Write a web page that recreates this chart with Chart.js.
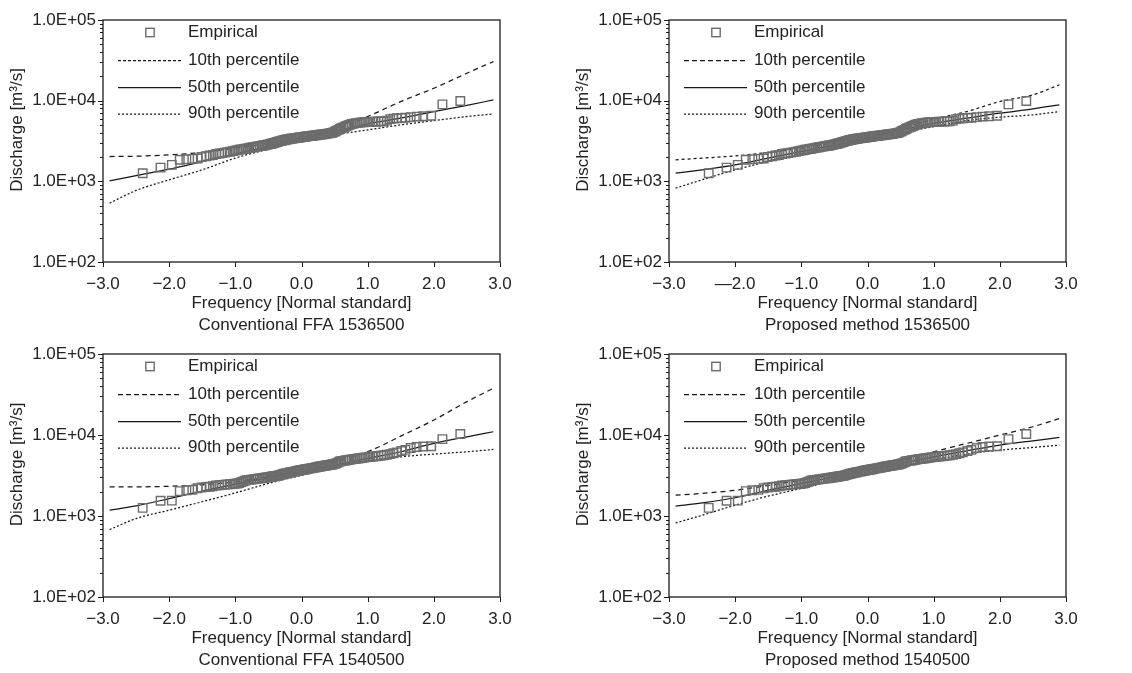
<!DOCTYPE html>
<html>
<head>
<meta charset="utf-8">
<script src="https://cdn.jsdelivr.net/npm/chart.js@4.4.1/dist/chart.umd.min.js"></script>
<style>
  html, body { margin: 0; padding: 0; background: #fff; }
  #wrap { position: relative; width: 1132px; height: 673px; overflow: hidden; }
  .panel { position: absolute; }
</style>
</head>
<body>
<div id="wrap">
  <canvas class="panel" id="p1" width="566" height="336" style="left:0;top:0"></canvas>
  <canvas class="panel" id="p2" width="566" height="336" style="left:566px;top:0"></canvas>
  <canvas class="panel" id="p3" width="566" height="337" style="left:0;top:336px"></canvas>
  <canvas class="panel" id="p4" width="566" height="337" style="left:566px;top:336px"></canvas>
</div>
<script>
// ---- axis ticks and labels ----
const xTickValues = [-3, -2, -1, 0, 1, 2, 3];
const xTickLabels = ['\u22123.0', '\u22122.0', '\u22121.0', '0.0', '1.0', '2.0', '3.0'];
const xTickLabelsAlt = ['\u22123.0', '\u20142.0', '\u22121.0', '0.0', '1.0', '2.0', '3.0'];
const yTickValues = [100, 1000, 10000, 100000];
const yTickLabels = ['1.0E+02', '1.0E+03', '1.0E+04', '1.0E+05'];

const xTitle = 'Frequency [Normal standard]';
const yTitle = 'Discharge [m\u00B3/s]';
const seriesNames = ['Empirical', '10th percentile', '50th percentile', '90th percentile'];

// ---- plotting positions (standard normal variate) of the ranked annual peaks ----
const freqZ = [
  -2.40, -2.13, -1.96, -1.84, -1.74, -1.65, -1.57, -1.51, -1.44, -1.39,
  -1.34, -1.29, -1.24, -1.20, -1.16, -1.12, -1.08, -1.04, -1.01, -0.97,
  -0.94, -0.91, -0.88, -0.85, -0.82, -0.79, -0.76, -0.73, -0.71, -0.68,
  -0.66, -0.63, -0.60, -0.58, -0.56, -0.53, -0.51, -0.48, -0.46, -0.44,
  -0.42, -0.39, -0.37, -0.35, -0.33, -0.30, -0.28, -0.26, -0.24, -0.22,
  -0.20, -0.18, -0.16, -0.14, -0.11, -0.09, -0.07, -0.05, -0.03, -0.01,
   0.01,  0.03,  0.05,  0.07,  0.09,  0.11,  0.14,  0.16,  0.18,  0.20,
   0.22,  0.24,  0.26,  0.28,  0.30,  0.33,  0.35,  0.37,  0.39,  0.42,
   0.44,  0.46,  0.48,  0.51,  0.53,  0.56,  0.58,  0.60,  0.63,  0.66,
   0.68,  0.71,  0.73,  0.76,  0.79,  0.82,  0.85,  0.88,  0.91,  0.94,
   0.97,  1.01,  1.04,  1.08,  1.12,  1.16,  1.20,  1.24,  1.29,  1.34,
   1.39,  1.44,  1.51,  1.57,  1.65,  1.74,  1.84,  1.96,  2.13,  2.40
];

// ---- ranked annual peak discharge, station 1536500 [m3/s] ----
const peaks1536500 = [
  1260, 1480, 1600, 1850, 1880, 1900, 1920, 2000, 2050, 2090,
  2120, 2180, 2210, 2240, 2270, 2300, 2330, 2370, 2400, 2430,
  2460, 2490, 2510, 2530, 2560, 2600, 2630, 2650, 2670, 2690,
  2710, 2730, 2760, 2780, 2800, 2830, 2860, 2890, 2920, 2950,
  2990, 3030, 3070, 3110, 3150, 3190, 3220, 3250, 3280, 3310,
  3330, 3350, 3370, 3390, 3410, 3430, 3450, 3470, 3490, 3510,
  3530, 3550, 3570, 3590, 3610, 3630, 3650, 3670, 3690, 3710,
  3730, 3750, 3770, 3790, 3810, 3830, 3850, 3870, 3900, 3930,
  3960, 3990, 4050, 4150, 4250, 4350, 4450, 4550, 4650, 4750,
  4850, 4950, 5050, 5130, 5200, 5260, 5310, 5350, 5380, 5400,
  5420, 5440, 5460, 5480, 5500, 5520, 5540, 5560, 5650, 5900,
  5980, 6050, 6100, 6150, 6250, 6350, 6400, 6500, 9000, 9900
];

// ---- ranked annual peak discharge, station 1540500 [m3/s] ----
const peaks1540500 = [
  1260, 1540, 1550, 2030, 2080, 2100, 2200, 2250, 2280, 2300,
  2330, 2380, 2400, 2420, 2440, 2460, 2470, 2480, 2500, 2520,
  2560, 2620, 2680, 2740, 2770, 2790, 2810, 2830, 2850, 2870,
  2890, 2910, 2930, 2950, 2970, 2990, 3010, 3030, 3050, 3070,
  3090, 3110, 3130, 3160, 3200, 3250, 3290, 3320, 3350, 3380,
  3410, 3440, 3470, 3500, 3530, 3560, 3590, 3620, 3650, 3680,
  3700, 3720, 3750, 3780, 3810, 3840, 3870, 3900, 3930, 3960,
  3990, 4020, 4050, 4080, 4110, 4140, 4170, 4200, 4230, 4260,
  4290, 4320, 4360, 4420, 4500, 4600, 4700, 4760, 4800, 4840,
  4880, 4920, 4960, 5000, 5040, 5080, 5120, 5160, 5200, 5250,
  5300, 5340, 5380, 5420, 5460, 5500, 5560, 5620, 5700, 5800,
  5950, 6100, 6350, 6550, 6900, 7100, 7200, 7250, 8900, 10300
];

// ---- quantile curves, evaluated at these standard normal variates ----
const curveZ = [-2.9, -2.5, -2.0, -1.5, -1.0, -0.5, 0.0, 0.5, 1.0, 1.5, 2.0, 2.5, 2.9];

// Conventional FFA, station 1536500
const ffa1536500P10 = [2030, 2050, 2130, 2280, 2580, 2970, 3520, 4340, 6350, 9750, 14260, 21900, 30500];
const ffa1536500P50 = [1015, 1180, 1415, 1760, 2190, 2700, 3330, 4140, 5150, 6060, 7330, 8770, 10200];
const ffa1536500P90 = [537, 771, 1045, 1390, 1940, 2500, 3120, 3770, 4340, 5010, 5670, 6360, 6850];

// Proposed method, station 1536500
const pm1536500P10 = [1850, 1940, 2070, 2280, 2580, 3030, 3590, 4560, 5900, 7330, 9750, 11800, 15700];
const pm1536500P50 = [1260, 1390, 1600, 1940, 2340, 2830, 3430, 4340, 5250, 6060, 6990, 7910, 8870];
const pm1536500P90 = [825, 1045, 1390, 1760, 2190, 2700, 3270, 3950, 4780, 5670, 6240, 6670, 7330];

// Conventional FFA, station 1540500
const ffa1540500P10 = [2290, 2290, 2330, 2430, 2640, 3050, 3750, 4660, 6210, 9690, 15300, 25800, 37700];
const ffa1540500P50 = [1180, 1334, 1640, 2030, 2470, 2960, 3510, 4250, 5130, 6210, 7870, 9500, 10970];
const ffa1540500P90 = [680, 930, 1180, 1500, 1930, 2520, 3190, 4050, 4800, 5380, 5810, 6210, 6640];

// Proposed method, station 1540500
const pm1540500P10 = [1810, 1900, 2080, 2380, 2770, 3290, 3870, 4760, 6210, 7870, 9980, 12650, 16000];
const pm1540500P50 = [1320, 1450, 1680, 2080, 2520, 3050, 3680, 4450, 5380, 6380, 7500, 8490, 9340];
const pm1540500P90 = [822, 1020, 1360, 1760, 2190, 2720, 3350, 4050, 4900, 5810, 6500, 7020, 7500];

// ---- styling ----
const FONT = '"Liberation Sans", Arial, Helvetica, sans-serif';
const TEXT = '#222222';
const MARKER = '#6c6c6c';
Chart.defaults.font.family = FONT;
Chart.defaults.font.size = 17;
Chart.defaults.color = TEXT;

// minor log ticks 2..9 in every decade, plus the decades
const yAllTicks = [];
for (let d = 100; d < 100000; d *= 10) {
  for (let k = 1; k < 10; k++) yAllTicks.push(d * k);
}
yAllTicks.push(100000);

const pairs = (xs, ys) => ys.map((v, i) => ({ x: xs[i], y: v }));

// frame, tick marks, in-plot legend and axis captions
const panelDecor = {
  id: 'panelDecor',
  afterDraw(chart, args, opts) {
    const { ctx, chartArea: a, scales } = chart;
    ctx.save();
    ctx.strokeStyle = '#1c1c1c';
    ctx.lineWidth = 1.3;
    ctx.setLineDash([]);
    ctx.strokeRect(a.left, a.top, a.right - a.left, a.bottom - a.top);

    ctx.lineWidth = 1;
    ctx.beginPath();
    scales.y.ticks.forEach(t => {
      const py = Math.round(scales.y.getPixelForValue(t.value)) + 0.5;
      const len = yTickValues.includes(t.value) ? 5 : 3;
      ctx.moveTo(a.left - len, py);
      ctx.lineTo(a.left, py);
    });
    scales.x.ticks.forEach(t => {
      const px = Math.round(scales.x.getPixelForValue(t.value)) + 0.5;
      ctx.moveTo(px, a.bottom);
      ctx.lineTo(px, a.bottom + 5);
    });
    ctx.stroke();

    // legend
    const ds = chart.data.datasets;
    const rows = [12.5, 40, 67, 93.5];
    ctx.font = '17px ' + FONT;
    ctx.fillStyle = TEXT;
    ctx.textAlign = 'left';
    ctx.textBaseline = 'middle';
    ds.forEach((d, i) => {
      const y = a.top + rows[i];
      ctx.strokeStyle = d.borderColor;
      ctx.lineWidth = d.borderWidth;
      if (d.showLine === false) {
        ctx.setLineDash([]);
        ctx.strokeRect(a.left + 47 - 4.2, y - 4.2, 8.4, 8.4);
      } else {
        ctx.setLineDash((opts.legendDash && opts.legendDash[i]) || d.borderDash || []);
        ctx.beginPath();
        ctx.moveTo(a.left + 15, y + 0.5);
        ctx.lineTo(a.left + 78, y + 0.5);
        ctx.stroke();
      }
      ctx.fillText(d.label, a.left + 85, y);
    });
    ctx.setLineDash([]);

    // captions
    const cx = (a.left + a.right) / 2;
    ctx.textAlign = 'center';
    ctx.fillText(xTitle, cx, a.bottom + 41);
    ctx.fillText(opts.caption, cx, a.bottom + 63);
    ctx.translate(a.left - 86, (a.top + a.bottom) / 2 - 11);
    ctx.rotate(-Math.PI / 2);
    ctx.fillText(yTitle, 0, 0);
    ctx.restore();
  }
};

function pinArea(chart, target) {
  for (let k = 0; k < 4; k++) {
    const a = chart.chartArea;
    const p = chart.options.layout.padding;
    const dl = target.left - a.left, dt = target.top - a.top;
    const dr = a.right - target.right, db = a.bottom - target.bottom;
    if (Math.abs(dl) + Math.abs(dt) + Math.abs(dr) + Math.abs(db) < 0.5) break;
    p.left += dl; p.top += dt; p.right += dr; p.bottom += db;
    chart.update('none');
  }
}

function makePanel(id, target, peaks, p10, p50, p90, caption, xLabels, dash10, legendDash10) {
  const chart = new Chart(document.getElementById(id), {
    type: 'scatter',
    data: {
      datasets: [
        {
          label: seriesNames[0],
          data: pairs(freqZ, peaks),
          showLine: false,
          pointStyle: 'rect',
          pointRadius: 6,
          borderColor: MARKER,
          backgroundColor: 'rgba(0,0,0,0)',
          borderWidth: 1.4
        },
        {
          label: seriesNames[1],
          data: pairs(curveZ, p10),
          showLine: true, pointRadius: 0,
          borderColor: '#161616', borderWidth: 1.25, borderDash: dash10,
          cubicInterpolationMode: 'monotone'
        },
        {
          label: seriesNames[2],
          data: pairs(curveZ, p50),
          showLine: true, pointRadius: 0,
          borderColor: '#161616', borderWidth: 1.25, borderDash: [],
          cubicInterpolationMode: 'monotone'
        },
        {
          label: seriesNames[3],
          data: pairs(curveZ, p90),
          showLine: true, pointRadius: 0,
          borderColor: '#161616', borderWidth: 1.25, borderDash: [2, 2],
          cubicInterpolationMode: 'monotone'
        }
      ]
    },
    options: {
      responsive: false,
      animation: false,
      events: [],
      layout: { padding: { left: 40, top: 20, right: 66, bottom: 70 } },
      plugins: {
        legend: { display: false },
        tooltip: { enabled: false },
        panelDecor: { caption: caption, legendDash: [null, legendDash10, null, null] }
      },
      scales: {
        x: {
          type: 'linear', min: -3, max: 3,
          afterBuildTicks: s => { s.ticks = xTickValues.map(v => ({ value: v })); },
          ticks: {
            autoSkip: false, maxRotation: 0, padding: 12,
            callback: (v, i) => xLabels[i]
          },
          grid: { display: false, drawTicks: false },
          border: { display: false }
        },
        y: {
          type: 'logarithmic', min: 100, max: 100000,
          afterBuildTicks: s => { s.ticks = yAllTicks.map(v => ({ value: v })); },
          ticks: {
            autoSkip: false, padding: 7,
            callback: v => {
              const i = yTickValues.indexOf(v);
              return i >= 0 ? yTickLabels[i] : '';
            }
          },
          grid: { display: false, drawTicks: false },
          border: { display: false }
        }
      }
    },
    plugins: [panelDecor]
  });
  pinArea(chart, target);
  return chart;
}

const topArea = { left: 103, top: 20, right: 500, bottom: 262 };
const lowArea = { left: 103, top: 18, right: 500, bottom: 261 };

makePanel('p1', topArea, peaks1536500, ffa1536500P10, ffa1536500P50, ffa1536500P90,
  'Conventional FFA 1536500', xTickLabels, [5, 4], [3, 2]);
makePanel('p2', topArea, peaks1536500, pm1536500P10, pm1536500P50, pm1536500P90,
  'Proposed method 1536500', xTickLabelsAlt, [3, 3], [5, 3]);
makePanel('p3', lowArea, peaks1540500, ffa1540500P10, ffa1540500P50, ffa1540500P90,
  'Conventional FFA 1540500', xTickLabels, [5, 4], [5, 3]);
makePanel('p4', lowArea, peaks1540500, pm1540500P10, pm1540500P50, pm1540500P90,
  'Proposed method 1540500', xTickLabels, [5, 4], [5, 3]);
</script>
</body>
</html>
